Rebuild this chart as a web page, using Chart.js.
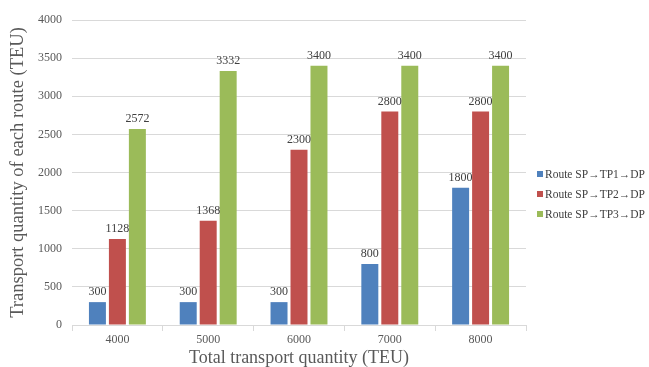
<!DOCTYPE html>
<html>
<head>
<meta charset="utf-8">
<script src="https://cdn.jsdelivr.net/npm/chart.js@4.4.1/dist/chart.umd.min.js"></script>
<style>
  html, body { margin: 0; padding: 0; background: #fff; }
  #wrap { position: relative; width: 649px; height: 367px; }
  #legend { position: absolute; left: 537px; top: 164px; font-family: "Liberation Serif", serif; font-size: 11.5px; color: #404040; }
  #legend div { height: 20px; line-height: 20px; white-space: nowrap; }
  #legend span { display: inline-block; width: 6px; height: 6px; margin-right: 2px; vertical-align: 1px; }
</style>
</head>
<body>
<div id="wrap">
  <canvas id="c" width="649" height="367"></canvas>
  <div id="legend"></div>
</div>
<script>
const categories = ['4000', '5000', '6000', '7000', '8000'];
const routeNames = ['Route SP\u2192TP1\u2192DP', 'Route SP\u2192TP2\u2192DP', 'Route SP\u2192TP3\u2192DP'];
const tp1 = [300, 300, 300, 800, 1800];
const tp2 = [1128, 1368, 2300, 2800, 2800];
const tp3 = [2572, 3332, 3400, 3400, 3400];
const colors = ['#4f81bd', '#c0504d', '#9bbb59'];
const yTicks = [0, 500, 1000, 1500, 2000, 2500, 3000, 3500, 4000];

const serif = '"Liberation Serif", "Times New Roman", serif';

// value labels above each bar
const valueLabels = {
  id: 'valueLabels',
  afterDatasetsDraw(chart) {
    const ctx = chart.ctx;
    ctx.save();
    ctx.font = '12px ' + serif;
    ctx.fillStyle = '#404040';
    ctx.textAlign = 'center';
    ctx.textBaseline = 'bottom';
    chart.data.datasets.forEach((ds, i) => {
      chart.getDatasetMeta(i).data.forEach((bar, j) => {
        ctx.fillText(String(ds.data[j]), bar.x, bar.y - 4);
      });
    });
    ctx.restore();
  }
};

const datasets = [tp1, tp2, tp3].map((d, i) => ({
  label: routeNames[i],
  data: d,
  backgroundColor: colors[i],
  borderWidth: 0,
  categoryPercentage: 0.66,
  barPercentage: 0.85
}));

const chart = new Chart(document.getElementById('c'), {
  type: 'bar',
  data: { labels: categories, datasets },
  options: {
    responsive: false,
    animation: false,
    layout: { padding: { top: 20, right: 123, left: 0, bottom: 0 } },
    plugins: { legend: { display: false }, tooltip: { enabled: false } },
    scales: {
      x: {
        offset: true,
        grid: { offset: true, drawOnChartArea: false, drawTicks: true, tickLength: 6, color: '#d9d9d9' },
        border: { color: '#d9d9d9' },
        ticks: { color: '#595959', font: { family: serif, size: 12 }, padding: 2 },
        title: { display: true, text: 'Total transport quantity (TEU)', color: '#595959', font: { family: serif, size: 18, lineHeight: 1 }, padding: { top: 0, bottom: 0 } },
        afterFit(axis) { axis.height = 42; }
      },
      y: {
        min: 0,
        max: 4000,
        afterBuildTicks(axis) { axis.ticks = yTicks.map(v => ({ value: v })); },
        grid: { color: '#d9d9d9', drawTicks: false },
        border: { display: false },
        ticks: { color: '#595959', font: { family: serif, size: 12 }, padding: 10, callback: v => String(v) },
        title: { display: true, text: 'Transport quantity of each route (TEU)', color: '#595959', font: { family: serif, size: 18.5, lineHeight: 1 }, padding: { top: 9, bottom: 0 } },
        afterFit(axis) { axis.width = 72; }
      }
    }
  },
  plugins: [valueLabels]
});

const legend = document.getElementById('legend');
chart.data.datasets.forEach(ds => {
  const row = document.createElement('div');
  const sw = document.createElement('span');
  sw.style.background = ds.backgroundColor;
  row.appendChild(sw);
  row.appendChild(document.createTextNode(ds.label));
  legend.appendChild(row);
});
</script>
</body>
</html>
